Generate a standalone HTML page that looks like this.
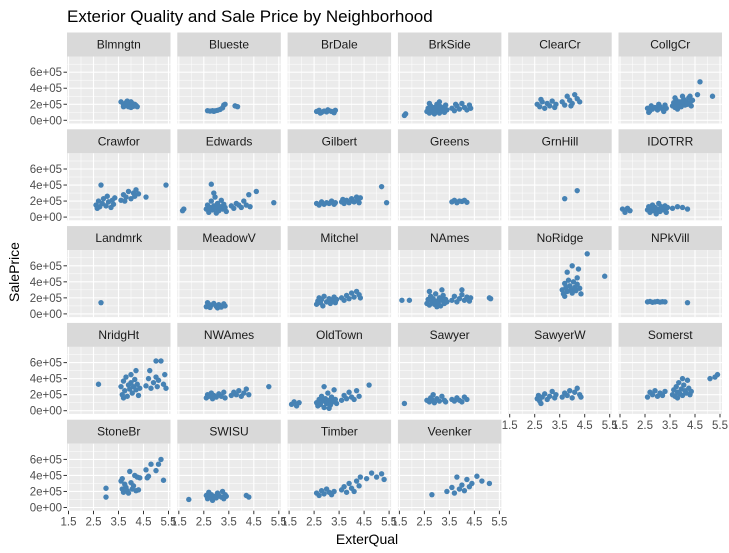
<!DOCTYPE html>
<html><head><meta charset="utf-8"><style>
body{margin:0;background:#fff}
svg{display:block;font-family:"Liberation Sans",Arial,sans-serif}
</style></head><body>
<svg id="c" width="729" height="553" viewBox="0 0 729 553" xmlns="http://www.w3.org/2000/svg">
<text x="67" y="22" font-size="17" fill="#000">Exterior Quality and Sale Price by Neighborhood</text>
<text x="367" y="544" font-size="14" text-anchor="middle" fill="#000">ExterQual</text>
<text transform="translate(19,272) rotate(-90)" font-size="14" text-anchor="middle" fill="#000">SalePrice</text>
</svg>
<script>
const neighborhoods=["Blmngtn","Blueste","BrDale","BrkSide","ClearCr","CollgCr","Crawfor","Edwards","Gilbert","Greens","GrnHill","IDOTRR","Landmrk","MeadowV","Mitchel","NAmes","NoRidge","NPkVill","NridgHt","NWAmes","OldTown","Sawyer","SawyerW","Somerst","StoneBr","SWISU","Timber","Veenker"];
const xTicks=[1.5,2.5,3.5,4.5,5.5];
const xTickLabels=["1.5","2.5","3.5","4.5","5.5"];
const yTicks=[0,200,400,600];
const yTickLabels=["0e+00","2e+05","4e+05","6e+05"];
// points: [ExterQual (jittered), SalePrice in thousands]
const pts={
Blmngtn:[[3.6,230],[3.7,200],[3.75,180],[3.8,220],[3.9,170],[3.95,195],[4.0,230],[4.05,210],[4.1,175],[4.15,200],[4.2,185],[4.25,170],[3.7,170],[4.0,160],[3.85,240]],
Blueste:[[2.65,120],[2.75,115],[2.85,120],[2.95,118],[3.05,125],[3.15,135],[3.25,155],[3.3,190],[3.35,200],[3.75,180],[3.85,170],[2.9,112]],
BrDale:[[2.6,110],[2.7,125],[2.8,100],[2.9,115],[3.0,105],[3.1,120],[3.2,110],[3.3,95],[3.35,125],[2.75,90],[3.05,130]],
BrkSide:[[1.7,60],[1.75,80],[2.6,110],[2.65,150],[2.7,90],[2.75,180],[2.8,130],[2.85,100],[2.9,160],[2.95,120],[3.0,200],[3.05,140],[3.1,90],[3.15,170],[3.2,120],[3.25,150],[3.3,100],[3.35,190],[3.4,130],[2.7,210],[2.9,80],[3.1,230],[3.6,150],[3.7,120],[3.8,180],[3.9,140],[4.0,210],[4.1,160],[4.2,130],[4.3,190],[4.35,150],[3.75,200]],
ClearCr:[[2.6,200],[2.7,170],[2.8,230],[2.9,150],[3.0,210],[3.1,180],[3.2,240],[3.3,160],[3.35,200],[2.75,260],[3.6,230],[3.7,190],[3.8,300],[3.9,250],[4.0,210],[4.1,320],[4.2,270],[4.3,230],[3.95,180]],
CollgCr:[[2.6,150],[2.7,120],[2.75,180],[2.8,140],[2.9,160],[3.0,130],[3.1,170],[3.2,140],[3.3,190],[3.35,150],[2.65,100],[3.05,200],[3.25,110],[3.6,180],[3.65,220],[3.7,160],[3.75,250],[3.8,200],[3.85,180],[3.9,230],[3.95,170],[4.0,210],[4.05,260],[4.1,190],[4.15,230],[4.2,200],[4.25,280],[4.3,220],[4.35,180],[4.4,250],[3.7,280],[4.0,300],[4.3,300],[4.7,480],[4.6,320],[5.2,300],[3.8,140]],
Crawfor:[[2.6,150],[2.7,200],[2.75,130],[2.8,400],[2.85,170],[2.9,230],[3.0,140],[3.05,260],[3.1,190],[3.2,120],[3.25,210],[3.3,160],[3.35,240],[2.65,110],[3.6,210],[3.7,280],[3.8,250],[3.9,320],[4.0,230],[4.1,300],[4.15,260],[4.2,340],[4.3,290],[3.75,200],[4.6,250],[5.4,400]],
Edwards:[[1.65,80],[1.7,100],[2.6,100],[2.65,150],[2.7,60],[2.75,120],[2.8,200],[2.85,90],[2.9,140],[2.95,250],[3.0,110],[3.05,170],[3.1,80],[3.15,130],[3.2,210],[3.25,100],[3.3,160],[3.35,120],[3.4,70],[2.8,410],[2.9,300],[3.0,50],[3.6,140],[3.7,110],[3.8,170],[3.9,150],[4.0,120],[4.1,200],[4.2,150],[4.3,280],[4.35,130],[4.6,320],[5.3,180]],
Gilbert:[[2.6,170],[2.7,150],[2.8,190],[2.9,160],[3.0,180],[3.1,170],[3.2,200],[3.3,160],[3.35,180],[3.6,190],[3.65,220],[3.7,170],[3.8,210],[3.9,180],[4.0,230],[4.05,200],[4.1,190],[4.2,250],[4.25,210],[4.3,180],[4.35,240],[5.2,380],[5.4,180]],
Greens:[[3.6,190],[3.7,210],[3.8,180],[3.9,200],[4.0,195],[4.1,210],[4.2,185]],
GrnHill:[[3.7,230],[4.2,330]],
IDOTRR:[[1.6,100],[1.7,60],[1.8,110],[1.9,80],[2.6,90],[2.65,130],[2.7,60],[2.75,110],[2.8,150],[2.85,80],[2.9,120],[2.95,40],[3.0,100],[3.05,170],[3.1,70],[3.15,130],[3.2,110],[3.25,90],[3.3,140],[3.35,60],[3.4,120],[3.6,110],[3.8,130],[4.0,120],[4.2,100]],
Landmrk:[[2.8,140]],
MeadowV:[[2.6,90],[2.7,120],[2.75,80],[2.8,110],[2.9,130],[3.0,95],[3.1,115],[3.2,85],[3.3,125],[3.35,100],[2.65,140],[3.05,75]],
Mitchel:[[2.6,120],[2.65,160],[2.7,200],[2.75,140],[2.8,180],[2.85,100],[2.9,220],[3.0,150],[3.1,190],[3.15,130],[3.2,170],[3.3,210],[3.35,140],[3.4,180],[3.6,200],[3.7,170],[3.8,230],[3.9,190],[4.0,260],[4.1,210],[4.2,280],[4.3,240],[4.35,200]],
NAmes:[[1.6,170],[1.9,170],[2.6,130],[2.65,180],[2.7,110],[2.75,220],[2.8,150],[2.85,190],[2.9,120],[2.95,250],[3.0,160],[3.05,140],[3.1,200],[3.15,100],[3.2,170],[3.25,230],[3.3,130],[3.35,180],[3.4,150],[2.7,280],[3.0,90],[3.2,300],[3.6,170],[3.7,220],[3.8,150],[3.9,190],[4.0,240],[4.1,170],[4.2,210],[4.3,160],[4.35,200],[4.0,300],[5.1,200],[5.15,190]],
NoRidge:[[3.6,300],[3.65,250],[3.7,380],[3.75,330],[3.8,280],[3.85,420],[3.9,350],[3.95,300],[4.0,260],[4.05,400],[4.1,330],[4.15,290],[4.2,370],[4.25,560],[4.3,320],[4.35,250],[3.8,520],[4.0,600],[4.2,450],[3.7,220],[4.6,750],[5.3,470]],
NPkVill:[[2.6,150],[2.7,155],[2.8,145],[2.9,150],[3.0,155],[3.1,148],[3.2,152],[3.3,150],[4.2,140]],
NridgHt:[[2.7,330],[3.6,300],[3.65,200],[3.7,370],[3.75,250],[3.8,420],[3.85,180],[3.9,320],[3.95,270],[4.0,350],[4.05,220],[4.1,300],[4.15,390],[4.2,260],[4.25,330],[4.3,190],[4.35,280],[3.7,160],[4.0,450],[4.2,500],[4.6,310],[4.7,400],[4.8,280],[4.9,350],[5.0,420],[5.05,300],[5.1,380],[5.2,620],[5.3,330],[5.35,450],[5.0,620],[4.75,500],[5.4,280]],
NWAmes:[[2.6,160],[2.65,200],[2.7,180],[2.8,220],[2.85,150],[2.9,190],[3.0,170],[3.1,210],[3.2,180],[3.3,230],[3.35,160],[3.6,190],[3.7,230],[3.8,200],[3.9,250],[4.0,180],[4.1,220],[4.2,270],[4.3,200],[5.1,300]],
OldTown:[[1.6,80],[1.7,110],[1.8,60],[1.9,100],[2.6,100],[2.65,60],[2.7,140],[2.75,80],[2.8,180],[2.85,120],[2.9,40],[2.95,150],[3.0,90],[3.05,220],[3.1,130],[3.15,70],[3.2,170],[3.25,110],[3.3,260],[3.35,140],[3.4,90],[2.9,300],[3.1,30],[3.6,130],[3.7,190],[3.8,150],[3.9,230],[4.0,170],[4.1,140],[4.2,250],[4.3,180],[4.7,320]],
Sawyer:[[1.7,90],[2.6,130],[2.7,110],[2.75,160],[2.8,140],[2.9,100],[3.0,150],[3.1,120],[3.2,180],[3.3,130],[3.35,110],[2.85,200],[3.6,140],[3.7,120],[3.8,160],[3.9,130],[4.0,110],[4.1,170],[4.2,140]],
SawyerW:[[2.6,150],[2.65,190],[2.7,120],[2.8,170],[2.9,210],[3.0,140],[3.1,180],[3.2,240],[3.3,160],[3.35,200],[2.75,90],[3.6,170],[3.7,220],[3.8,190],[3.9,250],[4.0,160],[4.1,230],[4.2,280],[4.3,200],[4.35,170]],
Somerst:[[2.6,170],[2.7,230],[2.8,200],[2.9,250],[3.0,180],[3.1,220],[3.2,190],[3.3,240],[3.6,200],[3.65,260],[3.7,180],[3.75,300],[3.8,230],[3.85,350],[3.9,210],[3.95,270],[4.0,190],[4.05,320],[4.1,250],[4.15,220],[4.2,380],[4.25,280],[4.3,200],[4.35,240],[3.8,160],[4.0,400],[5.1,400],[5.4,450],[5.3,420]],
StoneBr:[[3.0,240],[3.0,130],[3.6,330],[3.65,230],[3.7,190],[3.75,290],[3.8,250],[3.85,210],[3.9,180],[3.95,450],[4.0,310],[4.05,230],[4.1,270],[4.15,400],[4.2,210],[4.25,380],[4.3,220],[4.35,370],[3.65,360],[4.6,470],[4.65,370],[4.7,390],[4.8,540],[5.0,460],[5.1,540],[5.2,600],[5.3,340]],
SWISU:[[1.9,100],[2.6,150],[2.65,110],[2.7,190],[2.75,130],[2.8,160],[2.85,90],[2.9,140],[3.0,120],[3.05,180],[3.1,150],[3.2,130],[3.25,200],[3.3,110],[3.35,160],[3.4,140],[4.2,150],[4.3,130]],
Timber:[[2.6,180],[2.7,150],[2.8,210],[2.9,170],[3.0,230],[3.1,190],[3.2,160],[3.3,200],[3.6,220],[3.7,260],[3.8,190],[3.9,300],[4.0,240],[4.1,200],[4.2,330],[4.3,270],[4.35,380],[4.6,360],[4.8,430],[5.0,380],[5.2,420],[5.3,350]],
Veenker:[[2.8,160],[3.4,200],[3.6,250],[3.7,180],[3.8,380],[3.9,230],[4.0,280],[4.1,210],[4.2,350],[4.3,260],[4.4,300],[4.6,390],[4.8,330],[5.1,300]]
};
const svg=document.getElementById('c');
const NS='http://www.w3.org/2000/svg';
function mk(tag,attrs,parent){const e=document.createElementNS(NS,tag);for(const k in attrs)e.setAttribute(k,attrs[k]);(parent||svg).appendChild(e);return e;}
const colX0=67,colStep=110.3,pw=103.5;
const rowY0=32.5,rowStep=96.8,stripH=24,ph=67;
const xMin=1.44,xMax=5.58;
const yMin=-40,yMax=796;
function xs(col,v){return colX0+col*colStep+(v-xMin)/(xMax-xMin)*pw;}
function ys(row,v){const top=rowY0+row*rowStep+stripH;return top+ph-(v-yMin)/(yMax-yMin)*ph;}
const ncol=6;
neighborhoods.forEach((nb,i)=>{
  const col=i%ncol,row=Math.floor(i/ncol);
  const left=colX0+col*colStep, st=rowY0+row*rowStep, top=st+stripH;
  const g=mk('g',{});
  
  
  const strip=mk('rect',{x:left,y:st,width:pw,height:stripH,fill:'#d9d9d9'},g);
  
  
  const st_t=mk('text',{x:left+pw/2,y:st+16,'font-size':12,'text-anchor':'middle',fill:'#1a1a1a'},g);
  st_t.textContent=nb;
  
  
  const bg=mk('rect',{x:left,y:top,width:pw,height:ph,fill:'#ebebeb'},g);
  
  
  [100,300,500,700].forEach(v=>{const y=ys(row,v);const l=mk('line',{x1:left,x2:left+pw,y1:y,y2:y,stroke:'#fff','stroke-width':0.5},g);});
  [2,3,4,5].forEach(v=>{const x=xs(col,v);const l=mk('line',{x1:x,x2:x,y1:top,y2:top+ph,stroke:'#fff','stroke-width':0.5},g);});
  yTicks.forEach(v=>{const y=ys(row,v);const l=mk('line',{x1:left,x2:left+pw,y1:y,y2:y,stroke:'#fff','stroke-width':1.1},g);});
  xTicks.forEach(v=>{const x=xs(col,v);const l=mk('line',{x1:x,x2:x,y1:top,y2:top+ph,stroke:'#fff','stroke-width':1.1},g);});
  pts[nb].forEach(p=>{const c=mk('circle',{cx:xs(col,p[0]),cy:ys(row,p[1]),r:2.7,fill:'#4682b4'},g);});
  if(col===0){
    yTicks.forEach((v,j)=>{const y=ys(row,v);
      const t=mk('line',{x1:left-3.5,x2:left,y1:y,y2:y,stroke:'#333','stroke-width':1},g);
      const tx=mk('text',{x:left-5,y:y+4,'font-size':11.5,'text-anchor':'end',fill:'#4d4d4d'},g);tx.textContent=yTickLabels[j];});
  }
  const last=(i+ncol>=neighborhoods.length);
  if(last){
    xTicks.forEach((v,j)=>{const x=xs(col,v);
      const t=mk('line',{x1:x,x2:x,y1:top+ph,y2:top+ph+3.5,stroke:'#333','stroke-width':1},g);
      const tx=mk('text',{x:x,y:top+ph+15,'font-size':11.5,'text-anchor':'middle',fill:'#4d4d4d'},g);tx.textContent=xTickLabels[j];});
  }
});
</script>
</body></html>
